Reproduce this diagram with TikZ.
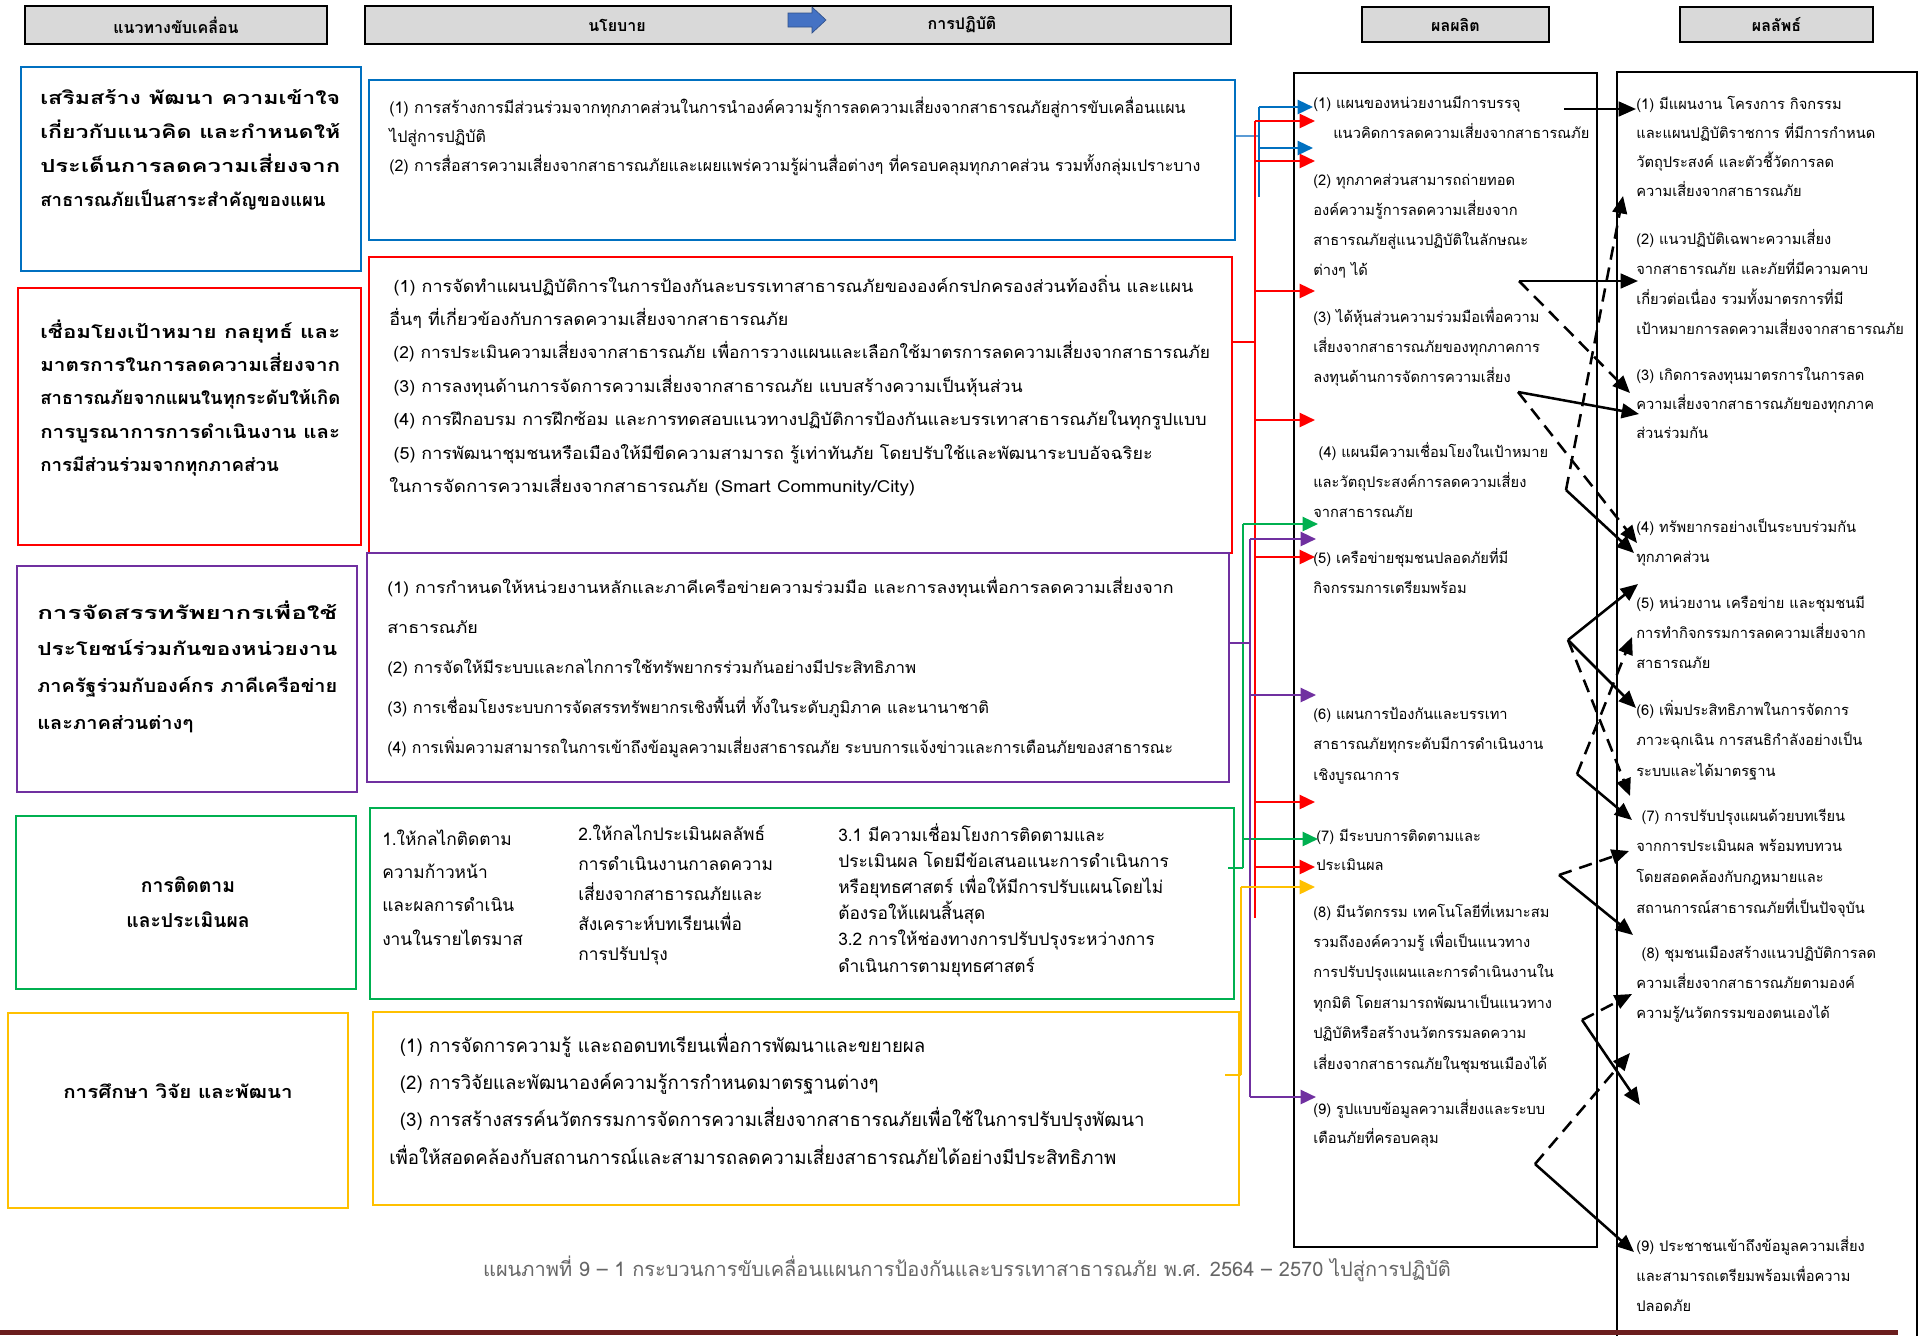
\documentclass[tikz,border=0pt]{standalone}
\usepackage{fontspec}
\usepackage{graphicx}
\setmainfont[Script=Thai]{Loma}
\usetikzlibrary{arrows.meta,fit,calc}
\definecolor{cB}{HTML}{0070C0}
\definecolor{cBl}{HTML}{5B9BD5}
\definecolor{cR}{HTML}{FF0000}
\definecolor{cP}{HTML}{7030A0}
\definecolor{cG}{HTML}{00B050}
\definecolor{cY}{HTML}{FFC000}
\definecolor{hdr}{HTML}{D9D9D9}
\definecolor{capc}{HTML}{666666}
\definecolor{barc}{HTML}{6B1E1E}
\definecolor{arrc}{HTML}{4472C4}
\newcommand\TL[3]{\fontsize{#1}{#2}\selectfont\begin{tabular}[t]{@{}l@{}}#3\end{tabular}}
\newcommand\LB[2]{\resizebox{#1}{\height}{#2}}
\newcommand\SX[2]{\scalebox{#1}[1]{#2}}
\begin{document}
\begin{tikzpicture}[x=0.75pt,y=-0.75pt,
  bx/.style={inner sep=0pt, line width=1.5pt},
  hd/.style={bx, draw=black, fill=hdr, line width=1.6pt},
  tb/.style={anchor=base west, inner sep=0pt},
  ht/.style={inner sep=0pt, font=\bfseries\fontsize{12pt}{14pt}\selectfont},
  stub/.style={line width=0.8pt},
  vl/.style={line width=1pt},
  ca/.style={line width=1.8pt, -{Triangle[length=11.5pt,width=10.5pt]}},
  ka/.style={line width=1.9pt, -{Triangle[length=13pt,width=11pt]}},
  kd/.style={ka, dash pattern=on 10pt off 6pt}]
\useasboundingbox (0,0) rectangle (1919,1335);

% headers
\node[hd, fit={(25,6)(327,44)}] (h1) {};
\node[ht] (h1t) at (h1.center) {แนวทางขับเคลื่อน};
\node[hd, fit={(365,6)(1231,44)}] (h2) {};
\node[ht] (h2a) at (617,25) {นโยบาย};
\node[ht] (h2b) at (962,25) {การปฏิบัติ};
\fill[arrc, draw=arrc!70!black, line width=0.5pt] (788,13) -- (812,13) -- (812,7) -- (826,20) -- (812,33) -- (812,27) -- (788,27) -- cycle;
\node[hd, fit={(1362,7)(1549,42)}] (h3) {};
\node[ht] (h3t) at (h3.center) {ผลผลิต};
\node[hd, fit={(1680,7)(1873,42)}] (h4) {};
\node[ht] (h4t) at (h4.center) {ผลลัพธ์};

% left boxes
\node[bx, draw=cB, fit={(21,67)(361,271)}] (lb1) {};
\node[bx, draw=cR, fit={(18,288)(361,545)}] (lb2) {};
\node[bx, draw=cP, fit={(17,566)(357,792)}] (lb3) {};
\node[bx, draw=cG, fit={(16,816)(356,989)}] (lb4) {};
\node[bx, draw=cY, fit={(8,1013)(348,1208)}] (lb5) {};

\node[tb] (lt1) at (40,104) {\bfseries\TL{13.5pt}{25.7pt}{%
\LB{225pt}{เสริมสร้าง พัฒนา ความเข้าใจ}\\
\LB{225pt}{เกี่ยวกับแนวคิด และกำหนดให้}\\
\LB{225pt}{ประเด็นการลดความเสี่ยงจาก}\\
\LB{214pt}{สาธารณภัยเป็นสาระสำคัญของแผน}}};
\node[tb] (lt2) at (40,338) {\bfseries\TL{13.5pt}{25.1pt}{%
\LB{225pt}{เชื่อมโยงเป้าหมาย กลยุทธ์ และ}\\
\LB{225pt}{มาตรการในการลดความเสี่ยงจาก}\\
\LB{225pt}{สาธารณภัยจากแผนในทุกระดับให้เกิด}\\
\LB{225pt}{การบูรณาการการดำเนินงาน และ}\\
\LB{179pt}{การมีส่วนร่วมจากทุกภาคส่วน}}};
\node[tb] (lt3) at (37,619) {\bfseries\TL{13.5pt}{27.5pt}{%
\LB{225pt}{การจัดสรรทรัพยากรเพื่อใช้}\\
\LB{225pt}{ประโยชน์ร่วมกันของหน่วยงาน}\\
\LB{225pt}{ภาครัฐร่วมกับองค์กร ภาคีเครือข่าย}\\
\LB{117pt}{และภาคส่วนต่างๆ}}};
\node[align=center, inner sep=0pt, font=\bfseries\fontsize{14.5pt}{26pt}\selectfont] (lt4) at (188,902) {การติดตาม\\และประเมินผล};
\node[inner sep=0pt, font=\bfseries\fontsize{13.5pt}{16pt}\selectfont] (lt5) at (178,1091) {\LB{172pt}{การศึกษา วิจัย และพัฒนา}};

% policy boxes
\node[bx, draw=cB, fit={(369,80)(1235,240)}] (pb1) {};
\node[bx, draw=cR, fit={(369,257)(1232,553)}] (pb2) {};
\node[bx, draw=cP, fit={(367,553)(1229,782)}] (pb3) {};
\node[bx, draw=cG, fit={(370,808)(1234,999)}] (pb4) {};
\node[bx, draw=cY, fit={(373,1012)(1239,1205)}] (pb5) {};

\node[tb] (pt1) at (389,113) {\TL{12pt}{21.75pt}{%
(1) การสร้างการมีส่วนร่วมจากทุกภาคส่วนในการนำองค์ความรู้การลดความเสี่ยงจากสาธารณภัยสู่การขับเคลื่อนแผน\\
ไปสู่การปฏิบัติ\\
(2) การสื่อสารความเสี่ยงจากสาธารณภัยและเผยแพร่ความรู้ผ่านสื่อต่างๆ ที่ครอบคลุมทุกภาคส่วน รวมทั้งกลุ่มเปราะบาง}};
\node[tb] (pt2) at (389,292) {\TL{12.5pt}{25.1pt}{%
\SX{1.08}{\hspace{3pt}(1) การจัดทำแผนปฏิบัติการในการป้องกันละบรรเทาสาธารณภัยขององค์กรปกครองส่วนท้องถิ่น และแผน}\\
\SX{1.08}{อื่นๆ ที่เกี่ยวข้องกับการลดความเสี่ยงจากสาธารณภัย}\\
\SX{1.045}{\hspace{3pt}(2) การประเมินความเสี่ยงจากสาธารณภัย เพื่อการวางแผนและเลือกใช้มาตรการลดความเสี่ยงจากสาธารณภัย}\\
\SX{1.07}{\hspace{3pt}(3) การลงทุนด้านการจัดการความเสี่ยงจากสาธารณภัย แบบสร้างความเป็นหุ้นส่วน}\\
\SX{1.07}{\hspace{3pt}(4) การฝึกอบรม การฝึกซ้อม และการทดสอบแนวทางปฏิบัติการป้องกันและบรรเทาสาธารณภัยในทุกรูปแบบ}\\
\SX{1.075}{\hspace{3pt}(5) การพัฒนาชุมชนหรือเมืองให้มีขีดความสามารถ รู้เท่าทันภัย โดยปรับใช้และพัฒนาระบบอัจฉริยะ}\\
\SX{1.12}{ในการจัดการความเสี่ยงจากสาธารณภัย (Smart Community/City)}}};
\node[tb] (pt3) at (387,593) {\TL{12pt}{30pt}{%
\SX{1.12}{(1) การกำหนดให้หน่วยงานหลักและภาคีเครือข่ายความร่วมมือ และการลงทุนเพื่อการลดความเสี่ยงจาก}\\
\SX{1.12}{สาธารณภัย}\\
\SX{1.06}{(2) การจัดให้มีระบบและกลไกการใช้ทรัพยากรร่วมกันอย่างมีประสิทธิภาพ}\\
\SX{1.03}{(3) การเชื่อมโยงระบบการจัดสรรทรัพยากรเชิงพื้นที่ ทั้งในระดับภูมิภาค และนานาชาติ}\\
\SX{0.99}{(4) การเพิ่มความสามารถในการเข้าถึงข้อมูลความเสี่ยงสาธารณภัย ระบบการแจ้งข่าวและการเตือนภัยของสาธารณะ}}};
\node[tb] (pt4a) at (382,845) {\TL{13pt}{25pt}{%
1.ให้กลไกติดตาม\\ความก้าวหน้า\\และผลการดำเนิน\\งานในรายไตรมาส}};
\node[tb] (pt4b) at (578,840) {\TL{13pt}{22.5pt}{%
2.ให้กลไกประเมินผลลัพธ์\\การดำเนินงานกาลดความ\\เสี่ยงจากสาธารณภัยและ\\สังเคราะห์บทเรียนเพื่อ\\การปรับปรุง}};
\node[tb] (pt4c) at (838,841) {\TL{13pt}{19.65pt}{%
3.1 มีความเชื่อมโยงการติดตามและ\\ประเมินผล โดยมีข้อเสนอแนะการดำเนินการ\\หรือยุทธศาสตร์ เพื่อให้มีการปรับแผนโดยไม่\\ต้องรอให้แผนสิ้นสุด\\3.2 การให้ช่องทางการปรับปรุงระหว่างการ\\ดำเนินการตามยุทธศาสตร์}};
\node[tb] (pt5) at (389,1052) {\TL{14pt}{28pt}{%
\hspace{8pt}(1) การจัดการความรู้ และถอดบทเรียนเพื่อการพัฒนาและขยายผล\\
\hspace{8pt}(2) การวิจัยและพัฒนาองค์ความรู้การกำหนดมาตรฐานต่างๆ\\
\hspace{8pt}(3) การสร้างสรรค์นวัตกรรมการจัดการความเสี่ยงจากสาธารณภัยเพื่อใช้ในการปรับปรุงพัฒนา\\
เพื่อให้สอดคล้องกับสถานการณ์และสามารถลดความเสี่ยงสาธารณภัยได้อย่างมีประสิทธิภาพ}};

% output / outcome boxes
\node[bx, draw=black, fit={(1294,73)(1597,1247)}] (ob) {};
\node[bx, draw=black, fit={(1617,72)(1917,1360)}] (rb) {};

\node[tb] (o1) at (1313,108) {\TL{11pt}{22.5pt}{(1) แผนของหน่วยงานมีการบรรจุ\\\hspace{15pt}แนวคิดการลดความเสี่ยงจากสาธารณภัย}};
\node[tb] (o2) at (1313,185) {\TL{11pt}{22.5pt}{(2) ทุกภาคส่วนสามารถถ่ายทอด\\องค์ความรู้การลดความเสี่ยงจาก\\สาธารณภัยสู่แนวปฏิบัติในลักษณะ\\ต่างๆ ได้}};
\node[tb] (o3) at (1313,322) {\TL{11pt}{22.5pt}{(3) ได้หุ้นส่วนความร่วมมือเพื่อความ\\เสี่ยงจากสาธารณภัยของทุกภาคการ\\ลงทุนด้านการจัดการความเสี่ยง}};
\node[tb] (o4) at (1313,457) {\TL{11pt}{22.5pt}{\hspace{4pt}(4) แผนมีความเชื่อมโยงในเป้าหมาย\\และวัตถุประสงค์การลดความเสี่ยง\\จากสาธารณภัย}};
\node[tb] (o5) at (1313,563) {\TL{11pt}{23.2pt}{(5) เครือข่ายชุมชนปลอดภัยที่มี\\กิจกรรมการเตรียมพร้อม}};
\node[tb] (o6) at (1313,719) {\TL{11pt}{22.9pt}{(6) แผนการป้องกันและบรรเทา\\สาธารณภัยทุกระดับมีการดำเนินงาน\\เชิงบูรณาการ}};
\node[tb] (o7) at (1316,841) {\TL{11pt}{21.75pt}{(7) มีระบบการติดตามและ\\ประเมินผล}};
\node[tb] (o8) at (1313,917) {\TL{11pt}{22.8pt}{(8) มีนวัตกรรม เทคโนโลยีที่เหมาะสม\\รวมถึงองค์ความรู้ เพื่อเป็นแนวทาง\\การปรับปรุงแผนและการดำเนินงานใน\\ทุกมิติ โดยสามารถพัฒนาเป็นแนวทาง\\ปฏิบัติหรือสร้างนวัตกรรมลดความ\\เสี่ยงจากสาธารณภัยในชุมชนเมืองได้}};
\node[tb] (o9) at (1313,1114) {\TL{11pt}{21.75pt}{(9) รูปแบบข้อมูลความเสี่ยงและระบบ\\เตือนภัยที่ครอบคลุม}};

\node[tb] (r1) at (1636,109) {\TL{11pt}{21.75pt}{(1) มีแผนงาน โครงการ กิจกรรม\\และแผนปฏิบัติราชการ ที่มีการกำหนด\\วัตถุประสงค์ และตัวชี้วัดการลด\\ความเสี่ยงจากสาธารณภัย}};
\node[tb] (r2) at (1636,244) {\TL{11pt}{22.5pt}{(2) แนวปฏิบัติเฉพาะความเสี่ยง\\จากสาธารณภัย และภัยที่มีความคาบ\\เกี่ยวต่อเนื่อง รวมทั้งมาตรการที่มี\\เป้าหมายการลดความเสี่ยงจากสาธารณภัย}};
\node[tb] (r3) at (1636,380) {\TL{11pt}{21.75pt}{(3) เกิดการลงทุนมาตรการในการลด\\ความเสี่ยงจากสาธารณภัยของทุกภาค\\ส่วนร่วมกัน}};
\node[tb] (r4) at (1636,532) {\TL{11pt}{22.5pt}{(4) ทรัพยากรอย่างเป็นระบบร่วมกัน\\ทุกภาคส่วน}};
\node[tb] (r5) at (1636,608) {\TL{11pt}{22.5pt}{(5) หน่วยงาน เครือข่าย และชุมชนมี\\การทำกิจกรรมการลดความเสี่ยงจาก\\สาธารณภัย}};
\node[tb] (r6) at (1636,715) {\TL{11pt}{22.9pt}{(6) เพิ่มประสิทธิภาพในการจัดการ\\ภาวะฉุกเฉิน การสนธิกำลังอย่างเป็น\\ระบบและได้มาตรฐาน}};
\node[tb] (r7) at (1636,821) {\TL{11pt}{23pt}{\hspace{4pt}(7) การปรับปรุงแผนด้วยบทเรียน\\จากการประเมินผล พร้อมทบทวน\\โดยสอดคล้องกับกฎหมายและ\\สถานการณ์สาธารณภัยที่เป็นปัจจุบัน}};
\node[tb] (r8) at (1636,958) {\TL{11pt}{22.5pt}{\hspace{4pt}(8) ชุมชนเมืองสร้างแนวปฏิบัติการลด\\ความเสี่ยงจากสาธารณภัยตามองค์\\ความรู้/นวัตกรรมของตนเองได้}};
\node[tb] (r9) at (1636,1251) {\TL{11pt}{22.5pt}{(9) ประชาชนเข้าถึงข้อมูลความเสี่ยง\\และสามารถเตรียมพร้อมเพื่อความ\\ปลอดภัย}};

% caption and bar
\node[inner sep=0pt, text=capc, font=\fontsize{15pt}{17pt}\selectfont] (cap) at (967,1269) {แผนภาพที่ 9 – 1 กระบวนการขับเคลื่อนแผนการป้องกันและบรรเทาสาธารณภัย พ.ศ. 2564 – 2570 ไปสู่การปฏิบัติ};
\fill[barc] (0,1330) rectangle (1898,1335);

% coloured connectors
\coordinate (bj) at (1259,136);
\draw[stub, cBl] (pb1.east |- bj) -- (bj);
\draw[vl, cB] (1259,107) -- (1259,197);
\coordinate (bT1) at (1313,107); \coordinate (bT2) at (1313,148);
\draw[ca, cB] (bT1 -| bj) -- (bT1);
\draw[ca, cB] (bT2 -| bj) -- (bT2);

\coordinate (rj) at (1255,342);
\draw[stub, cR] (pb2.east |- rj) -- (rj);
\draw[vl, cR] (1255,121) -- (1255,918);
\foreach \yy in {121,161,291,420,557,802,867}
  \draw[ca, cR] (rj |- 0,\yy) -- (1315,\yy);

\coordinate (gj) at (1243,868);
\draw[stub, cG] (1228,868) -- (gj);
\draw[vl, cG] (1243,524) -- (gj);
\foreach \yy in {524,839}
  \draw[ca, cG] (gj |- 0,\yy) -- (1318,\yy);

\coordinate (pj) at (1250,643);
\draw[stub, cP] (pb3.east |- pj) -- (pj);
\draw[vl, cP] (1250,539) -- (1250,1097);
\foreach \yy in {539,695,1097}
  \draw[ca, cP] (pj |- 0,\yy) -- (1316,\yy);

\coordinate (yj) at (1241,1075);
\draw[stub, cY] (1225,1075) -- (yj);
\draw[vl, cY] (1241,887) -- (yj);
\draw[ca, cY] (yj |- 0,887) -- (1315,887);

% black arrows
\coordinate (s1) at (1564,109); \coordinate (e1) at (1636,109);
\coordinate (s2) at (1519,281); \coordinate (e2) at (1638,281);
\coordinate (s3) at (1518,392); \coordinate (e3) at (1639,414);
\coordinate (s4) at (1566,490); \coordinate (e4) at (1634,553);
\coordinate (s5) at (1568,640); \coordinate (e5) at (1638,584);
\coordinate (e6) at (1636,708);
\coordinate (s7) at (1577,774); \coordinate (e7) at (1632,820);
\coordinate (s8) at (1559,875); \coordinate (e8) at (1633,935);
\coordinate (s9) at (1582,1020); \coordinate (e9) at (1640,1105);
\coordinate (s10) at (1535,1164); \coordinate (e10) at (1634,1252);
\draw[ka] (s1) -- (e1);
\draw[ka] (s2) -- (e2);
\draw[ka] (s3) -- (e3);
\draw[ka] (s4) -- (e4);
\draw[ka] (s5) -- (e5);
\draw[ka] (s5) -- (e6);
\draw[ka] (s7) -- (e7);
\draw[ka] (s8) -- (e8);
\draw[ka] (s9) -- (e9);
\draw[ka] (s10) -- (e10);
\coordinate (d1) at (1630,393);
\coordinate (d2) at (1637,543);
\coordinate (d3) at (1623,196);
\coordinate (d4) at (1630,796);
\coordinate (d5) at (1632,637);
\coordinate (d6) at (1629,851);
\coordinate (d7) at (1632,994);
\coordinate (d8) at (1630,1053);
\draw[kd] (s2) -- (d1);
\draw[kd] (s3) -- (d2);
\draw[kd] (s4) -- (d3);
\draw[kd] (s5) -- (d4);
\draw[kd] (s7) -- (d5);
\draw[kd] (s8) -- (d6);
\draw[kd] (s9) -- (d7);
\draw[kd] (s10) -- (d8);
\end{tikzpicture}
\end{document}
